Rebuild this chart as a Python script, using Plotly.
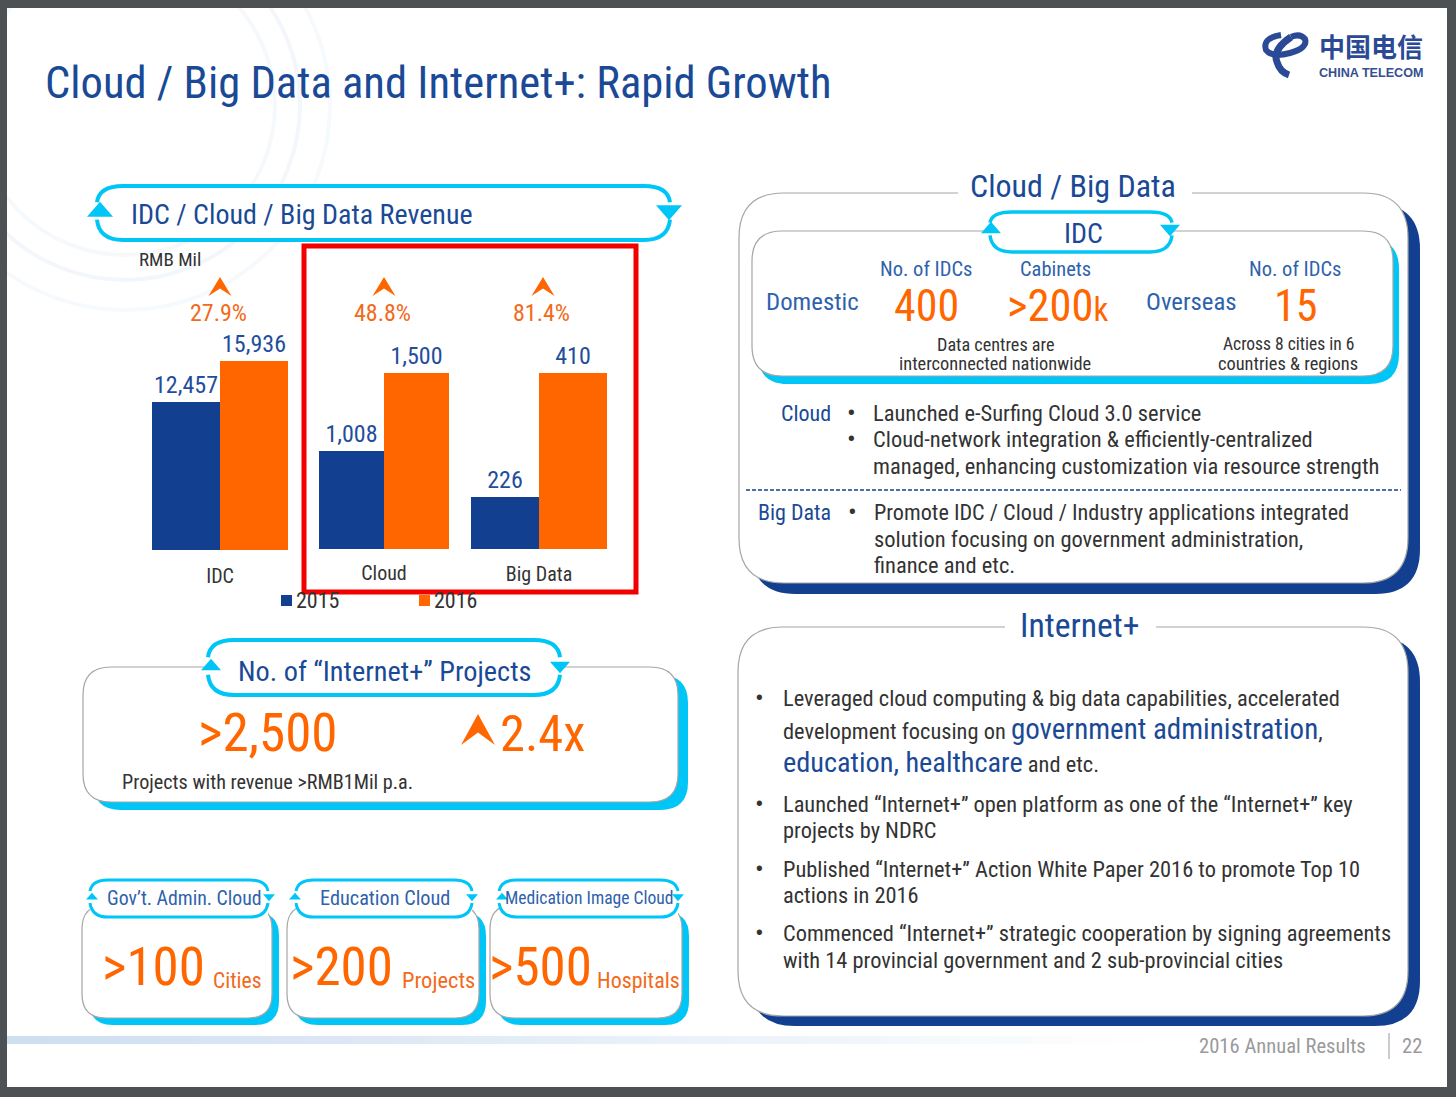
import plotly.graph_objects as go

W, H = 1456, 1097

# === DATA ===
groups = ["IDC", "Cloud", "Big Data"]
years = ["2015", "2016"]
values_2015 = [12457, 1008, 226]
values_2016 = [15936, 1500, 410]
value_labels_2015 = ["12,457", "1,008", "226"]
value_labels_2016 = ["15,936", "1,500", "410"]
growth_labels = ["27.9%", "48.8%", "81.4%"]
# the slide does not draw the bars from zero, each group has its own base
axis_ranges = [[0, 21000], [390, 1961], [149, 518]]

BLUE = "#123F8F"
ORANGE = "#FF6600"
CYAN = "#00C6F7"
TITLE = "#1A4A96"
MID = "#2F62AC"
TEXT = "#333333"
FONT = "Roboto Condensed, Lato"


def fx(x):
    return x / W


def fy(y):
    return 1 - y / H


def pt(x, y):
    return f"{fx(x):.5f},{fy(y):.5f}"


shapes = []
notes = []


def path(d, fill=None, line=None, width=0, layer="below", dash=None):
    ln = dict(width=width, color=line if line else "rgba(0,0,0,0)")
    if dash:
        ln["dash"] = dash
    shapes.append(dict(type="path", xref="paper", yref="paper", path=d, layer=layer,
                       fillcolor=fill if fill else "rgba(0,0,0,0)", line=ln))


def rrect(x0, y0, x1, y1, r, fill=None, line=None, width=0):
    d = (f"M{pt(x0 + r, y0)} L{pt(x1 - r, y0)} Q{pt(x1, y0)} {pt(x1, y0 + r)} "
         f"L{pt(x1, y1 - r)} Q{pt(x1, y1)} {pt(x1 - r, y1)} L{pt(x0 + r, y1)} "
         f"Q{pt(x0, y1)} {pt(x0, y1 - r)} L{pt(x0, y0 + r)} Q{pt(x0, y0)} {pt(x0 + r, y0)} Z")
    path(d, fill, line, width)


def rect(x0, y0, x1, y1, fill):
    shapes.append(dict(type="rect", xref="paper", yref="paper", layer="below",
                       x0=fx(x0), x1=fx(x1), y0=fy(y0), y1=fy(y1),
                       fillcolor=fill, line=dict(width=0)))


def txt(x, y, s, size, color=TEXT, anchor="left", font=None):
    notes.append(dict(xref="paper", yref="paper", x=fx(x), y=fy(y), text=s, showarrow=False,
                      xanchor=anchor, yanchor="middle", borderpad=0,
                      font=dict(family=font or FONT, size=size, color=color)))


def panel(x0, y0, x1, y1, r, shadow, dx, dy):
    rrect(x0 + dx, y0 + dy, x1 + dx, y1 + dy, r, shadow)
    rrect(x0, y0, x1, y1, r, "white", "#A6A6A6", 1.2)


def pill(x0, y0, x1, y1, tl, tr, ty, r, w=4, t=13):
    # white body, two open cyan strokes and the two little triangles
    rect(x0, y0, x1, y1, "white")
    g = (y1 - y0) * 0.16
    path(f"M{pt(x0, ty - g)} Q{pt(x0 + 2, y0)} {pt(x0 + r, y0)} L{pt(x1 - r, y0)} "
         f"Q{pt(x1 - 2, y0)} {pt(x1, ty - g)}", None, CYAN, w)
    path(f"M{pt(x0, ty + g)} Q{pt(x0 + 2, y1)} {pt(x0 + r, y1)} L{pt(x1 - r, y1)} "
         f"Q{pt(x1 - 2, y1)} {pt(x1, ty + g)}", None, CYAN, w)
    h = t * 1.15
    path(f"M{pt(tl, ty - h * 0.62)} L{pt(tl + t, ty + h * 0.38)} L{pt(tl - t, ty + h * 0.38)} Z", CYAN)
    path(f"M{pt(tr, ty + h * 0.62)} L{pt(tr + t, ty - h * 0.38)} L{pt(tr - t, ty - h * 0.38)} Z", CYAN)


def chevron(cx, top, w, h):
    path(f"M{pt(cx, top)} L{pt(cx + w / 2, top + h)} L{pt(cx, top + h * 0.6)} "
         f"L{pt(cx - w / 2, top + h)} Z", ORANGE)


# === PAGE ===
rect(7, 8, 1447, 1087, "white")
for rad, col in [(150, "#F6F9FC"), (175, "#F3F7FB"), (205, "#F7FAFC")]:
    shapes.append(dict(type="circle", xref="paper", yref="paper", layer="below",
                       x0=fx(125 - rad), x1=fx(125 + rad), y0=fy(105 - rad), y1=fy(105 + rad),
                       line=dict(color=col, width=4)))
rect(0, 0, 7, H, "#4E5153")
rect(0, 0, W, 8, "#4E5153")
rect(1447, 0, W, H, "#4E5153")
rect(0, 1087, W, H, "#4E5153")

# strip at the bottom fades out to the right
for i in range(30):
    a = 0.75 * (1 - i / 30)
    rect(7 + i * 38, 1036, 7 + (i + 1) * 38, 1044, f"rgba(190,212,235,{a:.3f})")

txt(44, 83, "Cloud / Big Data and Internet+: Rapid Growth", 44.6, TITLE)

# logo
LOGO = "#2A4A96"
path(f"M{pt(1281, 35)} Q{pt(1262, 38)} {pt(1266, 50)} Q{pt(1272, 58)} {pt(1290, 53)} "
     f"Q{pt(1308, 48)} {pt(1305, 39)} Q{pt(1300, 33)} {pt(1291, 37)}", None, LOGO, 6)
path(f"M{pt(1291, 37)} Q{pt(1272, 50)} {pt(1277, 62)} Q{pt(1280, 72)} {pt(1289, 75)}", None, LOGO, 7)
txt(1371, 46, "<b>中国电信</b>", 26, LOGO, "center", "Noto Sans CJK SC")
txt(1371, 73, "<b>CHINA TELECOM</b>", 12.6, "#34508F", "center", "Liberation Sans")

# === LEFT: REVENUE ===
pill(97, 186, 670, 240, 100, 669, 211, 26)
txt(130, 214, "IDC / Cloud / Big Data Revenue", 28, TITLE)
txt(138, 259, "RMB Mil", 19)

chevron_x = [220, 384, 543]
percent_x = [218, 382, 541]
for cx, px_, label in zip(chevron_x, percent_x, growth_labels):
    chevron(cx, 277, 23, 19)
    txt(px_, 313, label, 24, "#F26A1B", "center")

# legend swatches, labels come with them
for sx, col, year in [(281, BLUE, years[0]), (419, ORANGE, years[1])]:
    rect(sx, 595, sx + 11, 606, col)
    txt(sx + 14, 600, year, 22)

# === RIGHT: CLOUD / BIG DATA ===
panel(739, 193, 1408, 583, 45, BLUE, 12, 11)
rect(958, 186, 1192, 200, "white")
txt(1073, 186, "Cloud / Big Data", 32, TITLE, "center")

panel(752, 231, 1393, 376, 30, CYAN, 6, 8)
pill(990, 212, 1172, 252, 991, 1170, 229, 22, 3.5, 10)
txt(1083, 233, "IDC", 28, TITLE, "center")
txt(926, 269, "No. of IDCs", 20.5, MID, "center")
txt(1055, 269, "Cabinets", 20.5, MID, "center")
txt(1295, 269, "No. of IDCs", 20.5, MID, "center")
txt(812, 301, "Domestic", 24.8, MID, "center")
txt(1191, 301, "Overseas", 24.8, MID, "center")
txt(927, 306, "400", 44, ORANGE, "center")
txt(1057, 306, ">200<span style='font-size:33px'>k</span>", 44.5, ORANGE, "center")
txt(1295, 306, "15", 44, ORANGE, "center")
txt(995, 344, "Data centres are", 18.2, TEXT, "center")
txt(995, 364, "interconnected nationwide", 18.4, TEXT, "center")
txt(1288, 344, "Across 8 cities in 6", 17.5, TEXT, "center")
txt(1288, 364, "countries &amp; regions", 18.4, TEXT, "center")

txt(832, 413, "Cloud", 22, TITLE, "right")
txt(846, 413, "•", 26)
txt(846, 439, "•", 26)
txt(872, 413, "Launched e-Surfing Cloud 3.0 service", 22.5)
txt(872, 439, "Cloud-network integration &amp; efficiently-centralized", 22.5)
txt(872, 466, "managed, enhancing customization via resource strength", 22.5)
path(f"M{pt(746, 490)} L{pt(1401, 490)}", None, BLUE, 1.6, "below", "4px,2px")
txt(832, 512, "Big Data", 22, TITLE, "right")
txt(847, 512, "•", 26)
txt(873, 512, "Promote IDC / Cloud / Industry applications integrated", 22.2)
txt(873, 539, "solution focusing on government administration,", 22.5)
txt(873, 565, "finance and etc.", 22.5)

# === RIGHT: INTERNET+ ===
panel(738, 627, 1408, 1016, 45, BLUE, 12, 10)
rect(1005, 620, 1156, 634, "white")
txt(1080, 625, "Internet+", 33.7, TITLE, "center")

big = "<span style='font-size:29px;color:#1A4A96'>"
big2 = "<span style='font-size:28.3px;color:#1A4A96'>"
internet_lines = [
    (698, "Leveraged cloud computing &amp; big data capabilities, accelerated"),
    (729, f"development focusing on {big}government administration</span>,"),
    (762, f"{big2}education, healthcare</span> and etc."),
    (804, "Launched “Internet+” open platform as one of the “Internet+” key"),
    (830, "projects by NDRC"),
    (869, "Published “Internet+” Action White Paper 2016 to promote Top 10"),
    (895, "actions in 2016"),
    (933, "Commenced “Internet+” strategic cooperation by signing agreements"),
    (960, "with 14 provincial government and 2 sub-provincial cities"),
]
for y, line in internet_lines:
    txt(782, y, line, 22.4)
for y in [698, 804, 869, 933]:
    txt(754, y, "•", 26)

# === LEFT: INTERNET+ PROJECTS ===
panel(83, 667, 678, 802, 28, CYAN, 10, 8)
pill(208, 640, 560, 695, 211, 560, 666, 26, 4, 10)
txt(384, 671, "No. of “Internet+” Projects", 28.3, TITLE, "center")
txt(268, 733, ">2,500", 53, ORANGE, "center")
chevron(478, 714, 34, 31)
txt(499, 733, "2.4x", 50.5, ORANGE)
txt(121, 782, "Projects with revenue &gt;RMB1Mil p.a.", 20.2)

# === LEFT: SMALL BOXES ===
boxes = [
    (82, 272, 90, 268, 92, 269, "Gov’t. Admin. Cloud", 184, 19.8, ">100", 101, "Cities", 212, 21.6),
    (287, 479, 296, 472, 295, 472, "Education Cloud", 385, 20.3, ">200", 289, "Projects", 401, 22.5),
    (490, 682, 499, 678, 502, 678, "Medication Image Cloud", 589, 17.6, ">500", 488, "Hospitals", 596, 22),
]
for x0, x1, p0, p1, tl, tr, label, lx, ls, num, nx, unit, ux, us in boxes:
    panel(x0, 905, x1, 1018, 24, CYAN, 7, 7)
    pill(p0, 880, p1, 917, tl, tr, 897, 18, 3, 6)
    txt(lx, 898, label, ls, MID, "center")
    txt(nx, 967, num, 53, ORANGE)
    txt(ux, 980, unit, us, "#F26A1B")

# footer
txt(1367, 1046, "2016 Annual Results", 20.6, "#9A9A9A", "right")
path(f"M{pt(1389, 1033)} L{pt(1389, 1059)}", None, "#9A9A9A", 1)
txt(1412, 1046, "22", 20.6, "#9A9A9A", "center")

# red highlight box sits over everything
shapes.append(dict(type="rect", xref="paper", yref="paper", layer="above",
                   x0=fx(304), x1=fx(636), y0=fy(246), y1=fy(592),
                   line=dict(color="#F20000", width=5), fillcolor="rgba(0,0,0,0)"))

# === BARS ===
bar_x = [(152, 288), (319, 449), (471, 607)]
bar_base = [550, 549, 549]
tick_len = [8, 6, 7]
fig = go.Figure()
layout_axes = {}
for i, g in enumerate(groups):
    suffix = "" if i == 0 else str(i + 1)
    for year, vals, labels, color in [(years[0], values_2015, value_labels_2015, BLUE),
                                      (years[1], values_2016, value_labels_2016, ORANGE)]:
        fig.add_trace(go.Bar(x=[g], y=[vals[i]], name=year, text=[labels[i]],
                             textposition="outside", cliponaxis=False, marker_color=color,
                             marker_line_width=0, showlegend=False,
                             textfont=dict(family=FONT, size=24, color="#1F4E9C"),
                             xaxis="x" + suffix, yaxis="y" + suffix))
    layout_axes["xaxis" + suffix] = dict(
        domain=[fx(bar_x[i][0]), fx(bar_x[i][1])], anchor="y" + suffix, showgrid=False,
        showline=False, zeroline=False, ticks="outside", ticklen=tick_len[i],
        tickcolor="rgba(0,0,0,0)", tickfont=dict(family=FONT, size=20, color=TEXT))
    layout_axes["yaxis" + suffix] = dict(
        domain=[fy(bar_base[i]), fy(bar_base[i] - 249)], range=axis_ranges[i],
        anchor="x" + suffix, visible=False)

fig.update_layout(width=W, height=H, autosize=False,
                  margin=dict(l=0, r=0, t=0, b=0),
                  paper_bgcolor="#4E5153", plot_bgcolor="rgba(0,0,0,0)",
                  barmode="group", bargap=0, bargroupgap=0,
                  shapes=shapes, annotations=notes,
                  **layout_axes)

fig.write_html("out.html", config={"displayModeBar": False},
               post_script="document.body.style.margin='0';")
